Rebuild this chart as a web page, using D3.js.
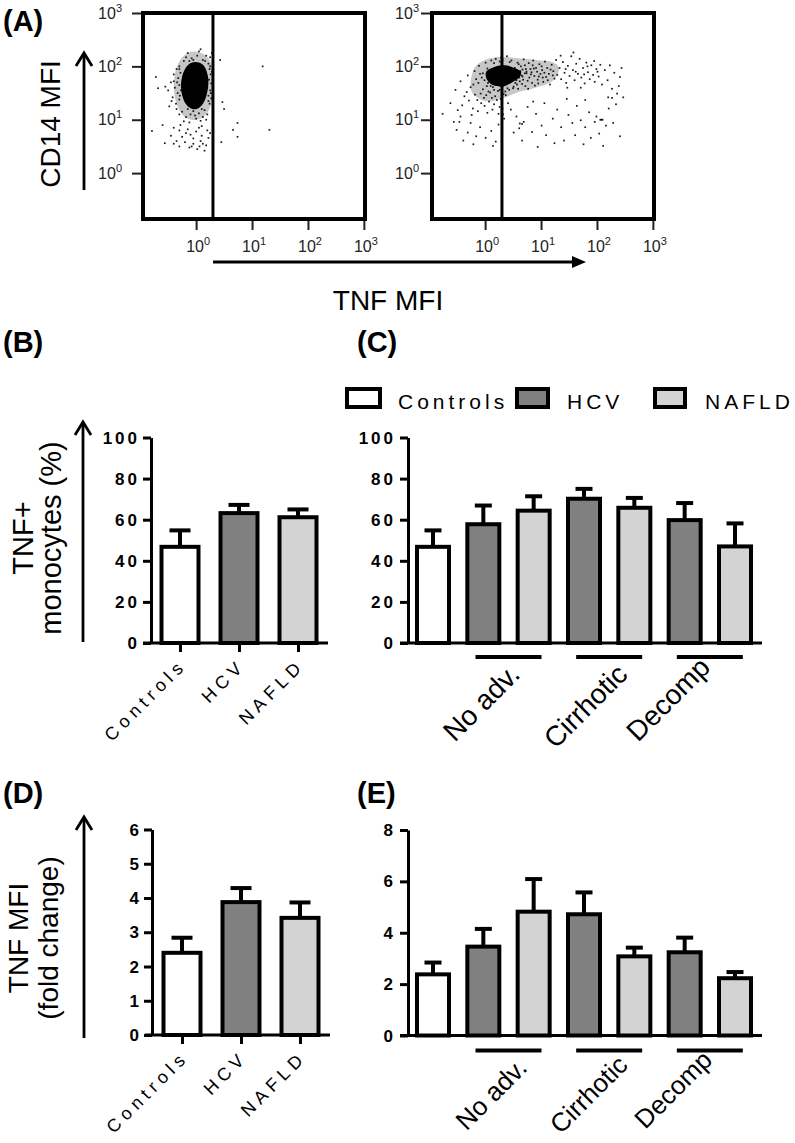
<!DOCTYPE html>
<html><head><meta charset="utf-8">
<script src="https://cdn.jsdelivr.net/npm/d3@7"></script>
<style>
body{margin:0;background:#fff}
svg{display:block}
text{font-family:Arial,"Liberation Sans",Helvetica,sans-serif;fill:#000}
</style>
</head><body>
<svg id="chart" width="795" height="1143"></svg>
<script>
// ---------------- DATA ----------------
const groups = ["Controls", "HCV", "NAFLD"];
const stages = ["No adv.", "Cirrhotic", "Decomp"];
const stageBarGroups = ["Controls", "HCV", "NAFLD", "HCV", "NAFLD", "HCV", "NAFLD"];

const pctOverall    = [46.8, 63.2, 61.2];
const pctOverallErr = [54.8, 67.2, 65.0];
const pctStage      = [46.8, 57.8, 64.4, 70.2, 65.8, 59.8, 47.0];
const pctStageErr   = [54.8, 66.9, 71.4, 75.0, 70.6, 68.1, 58.2];

const mfiOverall    = [2.40, 3.88, 3.42];
const mfiOverallErr = [2.84, 4.29, 3.87];
const mfiStage      = [2.38, 3.46, 4.82, 4.72, 3.08, 3.24, 2.23];
const mfiStageErr   = [2.84, 4.15, 6.09, 5.57, 3.42, 3.81, 2.47];

const pctTicks  = [0, 20, 40, 60, 80, 100];
const mfiTicksD = [0, 1, 2, 3, 4, 5, 6];
const mfiTicksE = [0, 2, 4, 6, 8];
const logTickExp = [0, 1, 2, 3];
const gateTNF = 2;

// flow events, [log10 TNF MFI, log10 CD14 MFI]
const coreUnstim = [[-0.02,2.08],[0.11,2.04],[0.18,1.93],[0.22,1.74],[0.2,1.52],[0.14,1.33],[0.05,1.22],[-0.07,1.2],[-0.18,1.29],[-0.25,1.46],[-0.27,1.67],[-0.23,1.88],[-0.14,2.03]];
const haloUnstim = [[-0.05,2.28],[0.15,2.22],[0.27,2.05],[0.3,1.7],[0.28,1.35],[0.18,1.1],[0.0,1.0],[-0.2,1.05],[-0.35,1.3],[-0.4,1.65],[-0.35,1.98],[-0.22,2.2]];
const eventsUnstim = [
 [-0.15,2.25],[0.05,2.28],[0.18,2.2],[-0.08,2.15],[0.12,2.12],[0.22,2.05],[-0.22,2.1],[-0.3,2.0],[0.25,2.17],[0.02,2.2],[-0.12,2.1],[0.28,2.25],[0.08,2.32],[-0.05,2.12],[0.16,2.1],[-0.18,2.17],
 [-0.35,1.95],[-0.4,1.85],[-0.32,1.78],[-0.45,1.7],[-0.3,1.65],[-0.38,1.6],[-0.5,1.55],[-0.33,1.5],[-0.42,1.42],[-0.3,1.38],[-0.36,1.3],[-0.48,1.25],[-0.28,1.88],[-0.4,1.72],[-0.27,1.55],[-0.55,1.62],[-0.44,1.35],[-0.3,1.95],[-0.34,1.7],[-0.29,1.45],[-0.35,1.2],
 [0.24,1.95],[0.26,1.85],[0.23,1.75],[0.27,1.68],[0.25,1.55],[0.22,1.45],[0.27,1.4],[0.24,1.3],[0.28,1.9],[0.2,1.6],[0.26,1.5],[0.22,1.35],[0.25,2.0],
 [-0.25,1.15],[-0.1,1.1],[0.05,1.12],[0.15,1.18],[-0.18,1.05],[0.0,1.02],[0.12,1.05],[-0.3,1.1],[0.2,1.1],[-0.05,1.16],[0.08,0.98],[-0.22,0.97],[0.18,1.0],[-0.12,0.95],[-0.15,1.2],[0.1,1.2],[-0.02,1.08],
 [-0.4,0.85],[-0.3,0.8],[-0.15,0.82],[0.05,0.85],[0.2,0.8],[-0.45,0.7],[-0.25,0.68],[-0.1,0.72],[0.1,0.7],[0.22,0.66],[-0.35,0.6],[-0.2,0.58],[-0.05,0.55],[0.08,0.6],[0.18,0.52],[-0.3,0.5],[-0.12,0.48],[0.02,0.45],[0.15,0.42],[-0.05,0.65],[-0.18,0.75],[0.25,0.75],[0.12,0.55],[-0.4,0.55],[0.0,0.78],[-0.28,0.9],[0.1,0.88],[-0.08,0.5],[0.06,0.5],
 [-0.72,1.8],[-0.68,1.59],[0.43,2.12],[0.47,1.33],[0.45,0.58],[0.74,0.94],[0.74,0.68],[0.66,0.81],[-0.79,0.79],[-0.56,0.56],[1.19,2.0],[1.31,0.81],[0.5,1.2],[-0.6,0.9]
];
const coreStim = [[0.02,1.9],[0.2,2.0],[0.35,2.02],[0.5,1.98],[0.64,1.9],[0.6,1.78],[0.45,1.68],[0.32,1.62],[0.16,1.64],[0.04,1.74]];
const haloStim = [[-0.2,1.95],[0.0,2.12],[0.3,2.18],[0.6,2.15],[0.9,2.12],[1.2,2.08],[1.32,1.95],[1.2,1.72],[0.9,1.6],[0.6,1.52],[0.3,1.4],[0.0,1.35],[-0.25,1.55]];
const eventsStim = [
 [0.47,2.11],[0.53,1.97],[0.49,1.83],[0.56,1.74],[0.51,1.62],[0.58,2.07],[0.63,1.91],[0.61,1.79],[0.66,1.67],[0.59,1.58],
 [0.69,2.13],[0.71,2.02],[0.74,1.87],[0.67,1.81],[0.76,1.73],[0.72,1.63],[0.78,2.06],[0.81,1.95],[0.79,1.79],[0.84,1.69],
 [0.86,2.11],[0.83,1.89],[0.88,1.82],[0.91,1.97],[0.94,1.75],[0.89,1.64],[0.97,2.04],[0.99,1.86],[1.02,1.93],[1.04,1.71],
 [1.07,2.09],[1.09,1.8],[1.11,1.97],[1.14,1.86],[1.16,1.66],[1.19,2.03],[1.22,1.91],[1.24,1.77],[1.27,2.12],[1.29,1.84],
 [0.55,1.88],[0.64,2.0],[0.73,1.95],[0.82,1.85],[0.93,1.9],[1.01,2.0],[1.12,1.74],[1.21,1.83],[0.62,1.72],[0.77,1.58],
 [0.87,1.96],[0.96,1.81],[1.06,1.88],[1.17,1.94],[0.68,1.75],[0.85,2.02],[1.03,1.79],[0.57,1.66],[0.74,1.9],[0.95,1.68],
 [1.33,1.97],[1.36,1.76],[1.39,2.08],[1.42,1.88],[1.45,1.69],[1.48,2.01],[1.51,1.82],[1.54,2.19],[1.57,1.93],[1.6,1.74],
 [1.63,2.05],[1.66,1.86],[1.69,2.14],[1.72,1.79],[1.75,1.97],[1.78,1.68],[1.81,2.07],[1.84,1.89],[1.87,1.76],[1.9,2.02],
 [1.93,1.84],[1.96,1.71],[1.99,1.95],[2.03,1.81],[2.06,2.03],[2.09,1.66],[1.35,2.2],[1.47,1.6],[1.58,2.26],[1.71,1.6],
 [1.83,2.0],[1.95,2.1],[2.01,1.9],[1.44,1.95],[1.62,1.9],[1.77,1.85],
 [2.14,1.93],[2.19,1.74],[2.23,2.02],[2.27,1.58],[2.31,1.88],[2.36,1.49],[2.41,1.8],[2.44,1.97],[2.39,1.63],[2.47,1.42],[2.2,1.42],
 [-0.62,1.31],[-0.53,1.56],[-0.49,1.18],[-0.44,1.72],[-0.37,1.44],[-0.41,1.27],[-0.46,0.96],[-0.31,1.83],[-0.26,1.61],[-0.33,1.52],[-0.29,1.36],[-0.24,1.09],[-0.19,1.91],[-0.16,1.76],[-0.21,1.66],[-0.18,1.47],[-0.14,1.37],[-0.22,1.21],[-0.11,2.01],[-0.09,1.86],[-0.06,1.79],[-0.12,1.69],[-0.04,1.57],[-0.08,1.49],[-0.02,1.41],[-0.07,1.31],[-0.13,1.16],[0.01,2.07],[0.04,1.96],[0.03,1.63],[0.06,1.53],[0.02,1.46],[0.07,1.34],[-0.01,1.26],[0.04,1.13],[0.11,2.11],[0.14,1.61],[0.09,1.51],[0.12,1.41],[0.16,1.29],[0.13,1.19],[0.19,2.14],[0.23,1.54],[0.18,1.44],[0.21,1.37],[0.26,1.24],[0.24,1.11],[0.29,2.17],[0.33,1.48],[0.28,1.39],[0.31,1.21],[0.34,1.02],[0.3,1.3],[0.32,1.1],[0.39,2.19],[0.43,1.56],[0.37,1.46],[0.41,1.31],
 [0.06,1.92],[0.16,2.06],[0.26,2.09],[0.44,2.08],[0.6,2.04],[0.67,1.94],[0.65,1.83],[0.54,1.69],[0.4,1.59],[0.26,1.56],[0.1,1.63],[-0.01,1.74],[-0.04,1.87],[0.05,1.69],[0.16,1.56],[0.36,1.53],[0.5,1.59],[0.71,1.87],[0.31,2.12],[0.09,1.84],
 [0.46,1.19],[0.56,1.06],[0.61,0.84],[0.69,0.96],[0.76,1.24],[0.84,0.77],[0.91,1.11],[1.01,0.89],[1.06,1.31],[1.09,0.71],[1.21,1.02],[1.29,1.19],[1.36,0.86],[1.41,0.61],[1.49,1.09],[1.56,0.94],[1.61,0.71],[1.64,1.26],[1.71,0.99],[1.76,0.54],[1.79,0.86],[1.86,1.14],[1.89,0.66],[1.96,0.96],[1.99,1.06],[2.04,0.74],[2.11,0.51],[2.16,0.89],[2.21,1.21],[2.29,0.94],[2.34,1.29],[2.41,0.69],[1.24,0.56],[0.94,0.49],[0.66,0.61],[0.51,0.76],[0.86,1.34],[1.46,1.39],[1.79,1.37],[2.27,1.41],
 [-0.51,0.81],[-0.39,0.61],[-0.31,0.76],[-0.21,0.54],[-0.09,0.86],[0.01,0.66],[0.11,0.79],[0.19,0.59],[0.24,0.91],[-0.26,0.94],[-0.56,0.96],[-0.44,1.06],[0.14,0.51],[-0.16,0.69],[-0.76,1.11],
 [2.06,1.0],[2.08,1.0],[2.1,1.0],[0.62,0.93],[0.66,0.92]
];

// ---------------- DRAW ----------------
const svg = d3.select("#chart");
const FILL = {Controls: "#ffffff", HCV: "#808080", NAFLD: "#d3d3d3"};

function panelLabel(t, x, y) {
  svg.append("text").attr("x", x).attr("y", y).attr("font-size", 29)
     .attr("font-weight", "bold").text(t);
}
function vArrow(x, yBottom, yTip) {
  svg.append("line").attr("x1", x).attr("x2", x).attr("y1", yBottom).attr("y2", yTip + 1)
     .attr("stroke", "#000").attr("stroke-width", 2.8);
  svg.append("path").attr("d", `M${x-8},${yTip+13}L${x},${yTip}L${x+8},${yTip+13}`)
     .attr("fill", "none").attr("stroke", "#000").attr("stroke-width", 2.8);
}
function vLabel(lines, cy, fs) {
  lines.forEach(l => {
    svg.append("text").attr("transform", `translate(${l.x},${cy}) rotate(-90)`)
       .attr("text-anchor", "middle").attr("font-size", fs).text(l.t);
  });
}

// ---- Panel A: flow plots ----
const yA = d3.scaleLog().domain([10 ** -0.86, 10 ** 3]).range([219, 13]);
function flowPlot(x0, x1, core, halo, events, labelRight) {
  const x = d3.scaleLog().domain([10 ** -0.95, 10 ** 3.02]).range([x0, x1]);
  const g = svg.append("g");
  const clipId = "clip" + x0;
  g.append("clipPath").attr("id", clipId).append("rect")
   .attr("x", x0).attr("y", 13).attr("width", x1 - x0).attr("height", 206);
  const inner = g.append("g").attr("clip-path", `url(#${clipId})`);
  const shape = d3.line().x(d => x(10 ** d[0])).y(d => yA(10 ** d[1])).curve(d3.curveCardinalClosed);
  inner.append("path").datum(halo).attr("d", shape).attr("fill", "#000").attr("fill-opacity", 0.22);
  inner.append("path").datum(core).attr("d", shape).attr("fill", "#000");
  inner.selectAll("rect.ev").data(events).join("rect").attr("class", "ev")
    .attr("x", d => x(10 ** d[0]) - 0.85).attr("y", d => yA(10 ** d[1]) - 0.85)
    .attr("width", 1.7).attr("height", 1.7).attr("fill", "#000").attr("opacity", 0.9);
  g.append("line").attr("x1", x(gateTNF)).attr("x2", x(gateTNF)).attr("y1", 13).attr("y2", 219)
   .attr("stroke", "#000").attr("stroke-width", 3);
  g.append("rect").attr("x", x0).attr("y", 13).attr("width", x1 - x0).attr("height", 206)
   .attr("fill", "none").attr("stroke", "#000").attr("stroke-width", 4);
  const ya = g.append("g").attr("transform", `translate(${x0 - 2},0)`)
    .call(d3.axisLeft(yA).tickValues(logTickExp.map(e => 10 ** e)).tickSize(9).tickFormat(""));
  ya.select(".domain").remove();
  ya.selectAll("line").attr("stroke", "#222").attr("stroke-width", 2);
  logTickExp.forEach(e => {
    const t = g.append("text").attr("x", labelRight).attr("y", yA(10 ** e)).attr("dy", "0.36em")
      .attr("text-anchor", "end").attr("font-size", 16).style("fill", "#222");
    t.append("tspan").text("10");
    t.append("tspan").attr("font-size", 11).attr("dy", -7).text(e);
  });
  const xa = g.append("g").attr("transform", `translate(0,${219 + 2})`)
    .call(d3.axisBottom(x).tickValues(logTickExp.map(e => 10 ** e)).tickSize(9).tickFormat(""));
  xa.select(".domain").remove();
  xa.selectAll("line").attr("stroke", "#222").attr("stroke-width", 2);
  logTickExp.forEach(e => {
    const t = g.append("text").attr("x", x(10 ** e) + 2).attr("y", 252)
      .attr("text-anchor", "middle").attr("font-size", 16).style("fill", "#222");
    t.append("tspan").text("10");
    t.append("tspan").attr("font-size", 11).attr("dy", -7).text(e);
  });
}
flowPlot(143, 365, coreUnstim, haloUnstim, eventsUnstim, 122);
flowPlot(432, 654, coreStim, haloStim, eventsStim, 419);

panelLabel("(A)", 3, 31);
vLabel([{t: "CD14 MFI", x: 60}], 124, 28);
vArrow(84, 190, 53);
svg.append("line").attr("x1", 213).attr("x2", 575).attr("y1", 262).attr("y2", 262)
   .attr("stroke", "#000").attr("stroke-width", 3);
svg.append("path").attr("d", "M572,256L586,262L572,268Z").attr("fill", "#000");
svg.append("text").attr("x", 388).attr("y", 310).attr("text-anchor", "middle")
   .attr("font-size", 28).text("TNF MFI");

// ---- Bar panels ----
function barPanel(cfg) {
  const g = svg.append("g");
  const y = d3.scaleLinear().domain([0, cfg.max]).range([cfg.y0, cfg.y0 - 205.5]);
  const x = d3.scalePoint().domain(d3.range(cfg.vals.length)).range(cfg.xr);
  const sw = 4;
  cfg.vals.forEach((v, i) => {
    g.append("line").attr("x1", x(i)).attr("x2", x(i)).attr("y1", y(v)).attr("y2", y(cfg.errs[i]))
      .attr("stroke", "#000").attr("stroke-width", sw);
    g.append("line").attr("x1", x(i) - cfg.capW / 2).attr("x2", x(i) + cfg.capW / 2)
      .attr("y1", y(cfg.errs[i])).attr("y2", y(cfg.errs[i]))
      .attr("stroke", "#000").attr("stroke-width", sw);
  });
  g.selectAll("rect.bar").data(cfg.vals).join("rect").attr("class", "bar")
    .attr("x", (d, i) => x(i) - cfg.barW / 2).attr("y", d => y(d))
    .attr("width", cfg.barW).attr("height", d => y(0) - y(d))
    .attr("fill", (d, i) => FILL[cfg.cats[i]]).attr("stroke", "#000").attr("stroke-width", sw);
  const ya = g.append("g").attr("transform", `translate(${cfg.axisX},0)`)
    .call(d3.axisLeft(y).tickValues(cfg.ticks).tickSize(8).tickSizeOuter(0).tickFormat(""));
  ya.selectAll("path,line").attr("stroke", "#000").attr("stroke-width", 3);
  g.selectAll("text.tl").data(cfg.ticks).join("text").attr("class", "tl")
    .attr("x", cfg.lblRight + cfg.ls).attr("y", d => y(d)).attr("dy", "0.36em")
    .attr("text-anchor", "end").attr("font-weight", "bold").attr("font-size", 17)
    .attr("letter-spacing", cfg.ls).text(d => d);
  g.append("line").attr("x1", cfg.axL).attr("x2", cfg.axR).attr("y1", y(0)).attr("y2", y(0))
    .attr("stroke", "#000").attr("stroke-width", 3);
  if (cfg.catLabels) {
    const xa = g.append("g").attr("transform", `translate(0,${y(0)})`)
      .call(d3.axisBottom(x).tickSize(9).tickFormat(""));
    xa.select(".domain").remove();
    xa.selectAll("line").attr("stroke", "#000").attr("stroke-width", 3);
    cfg.catLabels.forEach((c, i) => {
      g.append("text").attr("transform", `translate(${x(i) + 4},${y(0) + 27}) rotate(-45)`)
        .attr("x", 5).attr("text-anchor", "end").attr("font-size", 18)
        .attr("letter-spacing", 5).text(c);
    });
  }
  if (cfg.stageLabels) {
    cfg.stageLabels.forEach((s, k) => {
      const cx = (x(1 + 2 * k) + x(2 + 2 * k)) / 2;
      g.append("line").attr("x1", cx - 33).attr("x2", cx + 33)
        .attr("y1", y(0) + cfg.ulDy).attr("y2", y(0) + cfg.ulDy)
        .attr("stroke", "#000").attr("stroke-width", 4);
      g.append("text").attr("transform", `translate(${cx + cfg.lblDx[k]},${y(0) + cfg.lblDy[k]}) rotate(-45)`)
        .attr("text-anchor", "end").attr("font-size", cfg.stageFs).text(s);
    });
  }
}

barPanel({vals: pctOverall, errs: pctOverallErr, cats: groups, max: 100, y0: 643,
  xr: [180, 298], barW: 37, capW: 21, axisX: 151, ticks: pctTicks, lblRight: 137, ls: 3,
  axL: 143, axR: 328, catLabels: groups});
barPanel({vals: pctStage, errs: pctStageErr, cats: stageBarGroups, max: 100, y0: 643,
  xr: [433, 735], barW: 32, capW: 17, axisX: 408, ticks: pctTicks, lblRight: 393, ls: 3,
  axL: 400, axR: 762, stageLabels: stages, stageFs: 28, ulDy: 14, lblDx: [13, 20, 2], lblDy: [33, 33, 26]});
barPanel({vals: mfiOverall, errs: mfiOverallErr, cats: groups, max: 6, y0: 1035,
  xr: [182, 300], barW: 37, capW: 21, axisX: 152, ticks: mfiTicksD, lblRight: 139, ls: 0,
  axL: 145, axR: 330, catLabels: groups});
barPanel({vals: mfiStage, errs: mfiStageErr, cats: stageBarGroups, max: 8, y0: 1035.5,
  xr: [433, 735], barW: 32, capW: 17, axisX: 408, ticks: mfiTicksE, lblRight: 393, ls: 0,
  axL: 400, axR: 762, stageLabels: stages, stageFs: 26, ulDy: 15, lblDx: [20, 20, 4], lblDy: [34, 31, 26]});

panelLabel("(B)", 3, 352);
panelLabel("(C)", 357, 352);
panelLabel("(D)", 3, 803);
panelLabel("(E)", 357, 803);

vLabel([{t: "TNF+", x: 33}, {t: "monocytes (%)", x: 61}], 538, 29);
vArrow(83, 642, 422);
vLabel([{t: "TNF MFI", x: 28}, {t: "(fold change)", x: 58}], 938, 28);
vArrow(84, 1038, 817);

const legend = [{k: "Controls", bx: 347, bw: 33, tx: 398}, {k: "HCV", bx: 517, bw: 31, tx: 567},
                {k: "NAFLD", bx: 655, bw: 30, tx: 705}];
legend.forEach(l => {
  svg.append("rect").attr("x", l.bx).attr("y", 389).attr("width", l.bw).attr("height", 18)
     .attr("fill", FILL[l.k]).attr("stroke", "#000").attr("stroke-width", 4);
  svg.append("text").attr("x", l.tx).attr("y", 409).attr("font-size", 21)
     .attr("letter-spacing", 4).text(l.k);
});
</script>
</body></html>
